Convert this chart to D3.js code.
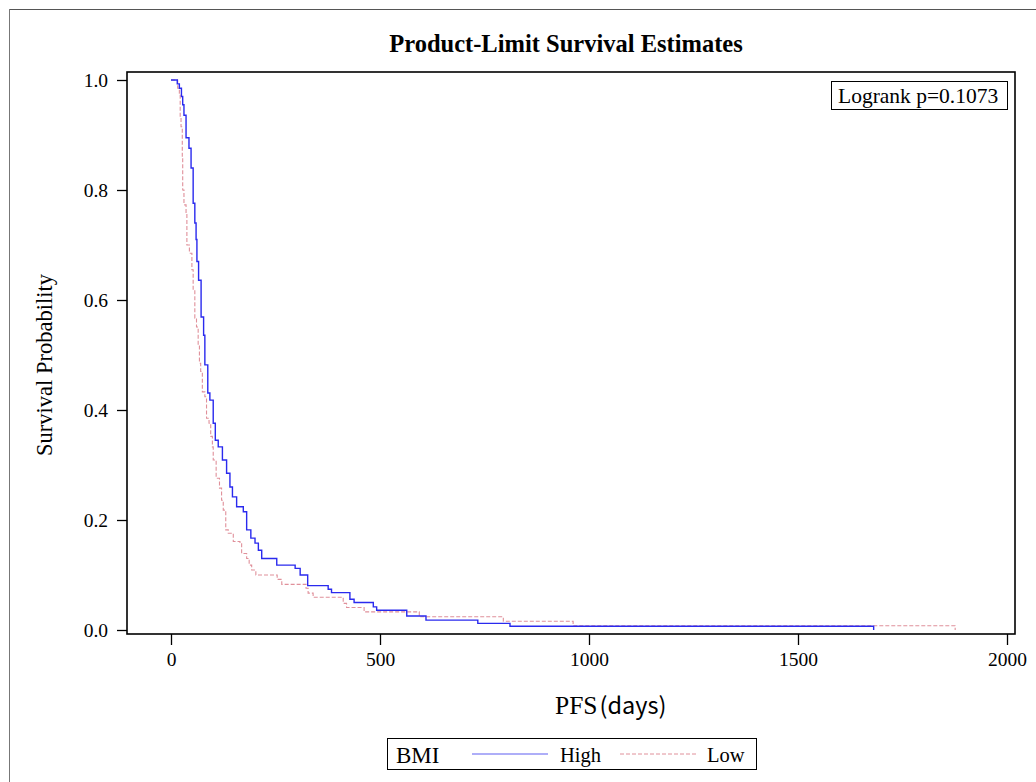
<!DOCTYPE html>
<html>
<head>
<meta charset="utf-8">
<script src="https://cdn.jsdelivr.net/npm/d3@7"></script>
<style>
  html, body { margin: 0; padding: 0; background: #fff; }
  svg { display: block; }
</style>
</head>
<body>
<svg id="chart" width="1036" height="782"></svg>
<script>
// ---- data ----
const highTime = [0, 15, 20, 25, 28, 31, 36, 43, 48, 53, 57, 60, 62, 66, 72, 78, 81, 88, 93, 101, 106, 113, 123, 133, 141, 147, 157, 173, 181, 191, 201, 209, 217, 253, 297, 309, 327, 376, 384, 428, 438, 484, 492, 564, 610, 734, 811, 1681];
const highSurv = [1.0, 0.993, 0.985, 0.97, 0.955, 0.936, 0.895, 0.876, 0.84, 0.776, 0.74, 0.71, 0.67, 0.636, 0.569, 0.536, 0.482, 0.431, 0.418, 0.376, 0.345, 0.333, 0.309, 0.285, 0.26, 0.242, 0.224, 0.215, 0.182, 0.167, 0.158, 0.145, 0.130, 0.118, 0.112, 0.10, 0.0806, 0.074, 0.068, 0.056, 0.05, 0.042, 0.036, 0.0255, 0.018, 0.012, 0.0067, 0];

const lowTime = [0, 16, 20, 22, 24, 27, 28, 31, 36, 38, 44, 50, 53, 57, 61, 65, 68, 71, 75, 81, 85, 91, 95, 99, 101, 108, 116, 121, 125, 131, 137, 149, 165, 169, 181, 187, 193, 203, 254, 265, 323, 328, 340, 412, 420, 462, 594, 795, 962, 1876];
const lowSurv = [1.0, 0.985, 0.976, 0.933, 0.915, 0.86, 0.80, 0.773, 0.758, 0.70, 0.685, 0.655, 0.618, 0.567, 0.551, 0.518, 0.485, 0.47, 0.433, 0.424, 0.385, 0.376, 0.352, 0.333, 0.309, 0.276, 0.258, 0.236, 0.218, 0.182, 0.176, 0.161, 0.158, 0.139, 0.130, 0.118, 0.109, 0.10, 0.092, 0.083, 0.076, 0.067, 0.0595, 0.0485, 0.041, 0.033, 0.024, 0.016, 0.0078, 0];

const xTicks = [0, 500, 1000, 1500, 2000];
const yTicks = [0, 0.2, 0.4, 0.6, 0.8, 1.0];
const groupNames = ["High", "Low"];
const titleText = "Product-Limit Survival Estimates";
const pText = "Logrank p=0.1073";

// ---- layout ----
const svg = d3.select("#chart");
const serif = "'Liberation Serif', 'Times New Roman', serif";
const frame = { left: 127, top: 72, right: 1015, bottom: 634 };

const x = d3.scaleLinear().domain([0, 2000]).range([171, 1007]);
const y = d3.scaleLinear().domain([0, 1]).range([630, 80]);

// outer frame (partially visible)
svg.append("line").attr("x1", 9).attr("y1", 9.5).attr("x2", 1036).attr("y2", 9.5)
  .attr("stroke", "#555").attr("stroke-width", 1);
svg.append("line").attr("x1", 9.5).attr("y1", 9).attr("x2", 9.5).attr("y2", 782)
  .attr("stroke", "#777").attr("stroke-width", 1);

// title
svg.append("text").attr("x", 566).attr("y", 52).attr("text-anchor", "middle")
  .attr("font-family", serif).attr("font-weight", "bold").attr("font-size", 24.5)
  .text(titleText);

// axes
const xAxis = d3.axisBottom(x).tickValues(xTicks).tickFormat(d3.format("d")).tickSize(11).tickSizeOuter(0);
const yAxis = d3.axisLeft(y).tickValues(yTicks).tickFormat(d3.format(".1f")).tickSize(10).tickSizeOuter(0);

const gx = svg.append("g").attr("transform", `translate(0,${frame.bottom})`).call(xAxis);
const gy = svg.append("g").attr("transform", `translate(${frame.left},0)`).call(yAxis);
[gx, gy].forEach(g => {
  g.select(".domain").remove();
  g.selectAll(".tick line").attr("stroke", "#000").attr("stroke-width", 1.3);
  g.selectAll(".tick text").attr("font-family", serif).attr("font-size", 19.5).attr("fill", "#000");
});
gx.selectAll(".tick text").attr("dy", "1.05em").attr("y", 12);
gy.selectAll(".tick text").attr("x", -19).attr("dy", "0.34em");

// curves
const line = d3.line().x(d => x(d[0])).y(d => y(d[1])).curve(d3.curveStepAfter);
const highPts = highTime.map((t, i) => [t, highSurv[i]]);
const lowPts = lowTime.map((t, i) => [t, lowSurv[i]]);

svg.append("path").datum(lowPts).attr("d", line)
  .attr("fill", "none").attr("stroke", "#e0909a").attr("stroke-width", 1.1)
  .attr("stroke-dasharray", "4,2");
svg.append("path").datum(highPts).attr("d", line)
  .attr("fill", "none").attr("stroke", "#2a2aee").attr("stroke-width", 1.4);

// plot frame
svg.append("rect").attr("x", frame.left).attr("y", frame.top)
  .attr("width", frame.right - frame.left).attr("height", frame.bottom - frame.top)
  .attr("fill", "none").attr("stroke", "#000").attr("stroke-width", 1.6);

// y label
svg.append("text").attr("transform", "translate(52,365) rotate(-90)")
  .attr("text-anchor", "middle").attr("font-family", serif).attr("font-size", 22.5)
  .text("Survival Probability");

// x label
const xl = svg.append("text").attr("x", 555).attr("y", 714).attr("font-size", 22);
xl.append("tspan").attr("font-family", serif).attr("font-size", 25.5).text("PFS");
xl.append("tspan").attr("font-family", "'Noto Sans CJK SC', 'Noto Sans', sans-serif").attr("font-size", 23.5).attr("dx", 2).text("(days)");

// logrank box
svg.append("rect").attr("x", 831.5).attr("y", 81.5).attr("width", 176).attr("height", 28)
  .attr("fill", "#fff").attr("stroke", "#000").attr("stroke-width", 1);
svg.append("text").attr("x", 838).attr("y", 102.5).attr("font-family", serif).attr("font-size", 21.5)
  .text(pText);

// legend
const lg = svg.append("g");
lg.append("rect").attr("x", 387.5).attr("y", 738.5).attr("width", 369).attr("height", 31)
  .attr("fill", "#fff").attr("stroke", "#000").attr("stroke-width", 1);
lg.append("text").attr("x", 396).attr("y", 763).attr("font-family", serif).attr("font-size", 23).text("BMI");
lg.append("line").attr("x1", 472).attr("x2", 548).attr("y1", 754).attr("y2", 754)
  .attr("stroke", "#2a2aee").attr("stroke-width", 1.2).attr("opacity", 0.75);
lg.append("text").attr("x", 560).attr("y", 762).attr("font-family", serif).attr("font-size", 20.5).text(groupNames[0]);
lg.append("line").attr("x1", 620).attr("x2", 697).attr("y1", 754).attr("y2", 754)
  .attr("stroke", "#e0909a").attr("stroke-width", 1).attr("stroke-dasharray", "4,2");
lg.append("text").attr("x", 707).attr("y", 762).attr("font-family", serif).attr("font-size", 20.5).text(groupNames[1]);
</script>
</body>
</html>
